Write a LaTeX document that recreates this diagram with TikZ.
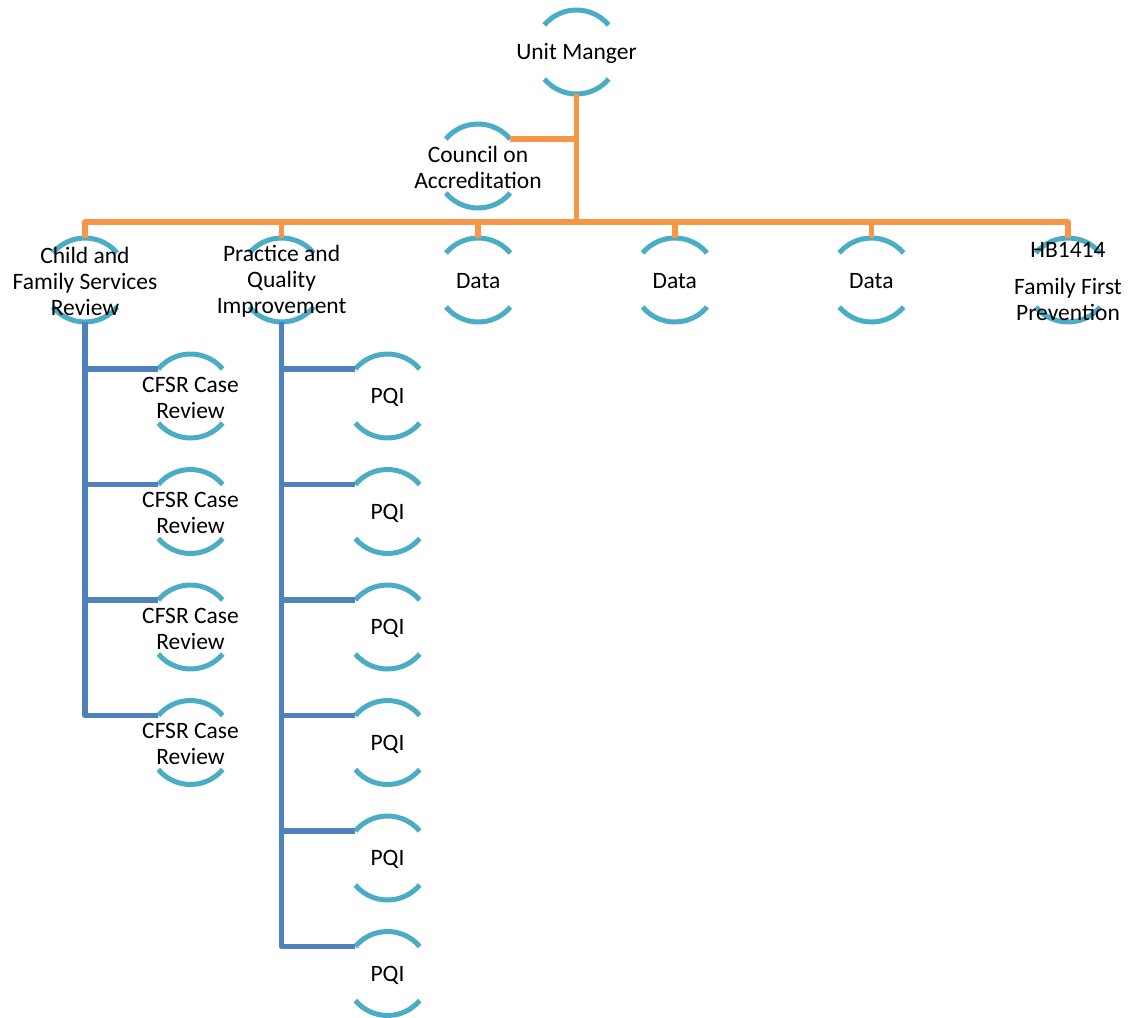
\documentclass[tikz,border=0pt]{standalone}
\usepackage{fontspec}
\setmainfont{Carlito}
\usepackage{xcolor}
\definecolor{ringblue}{HTML}{4BACC6}
\definecolor{linkorange}{HTML}{F79646}
\definecolor{linkblue}{HTML}{4F81BD}
\tikzset{
  ring/.style={circle, minimum size=84pt, inner sep=0pt, outer sep=0pt},
  txt/.style={align=center, inner sep=0pt, text=black, yshift=-1.5pt},
  arcpen/.style={ringblue, line width=5pt},
  toplink/.style={linkorange, line width=5.5pt, line join=round},
  sublink/.style={linkblue, line width=5.5pt, line join=round},
}

\begin{document}
\begin{tikzpicture}[x=1pt, y=1pt, font=\fontsize{23.5}{26}\selectfont]
      \useasboundingbox (0,0) rectangle (1132,-1017);
      \node[ring] (um) at (576.5,-52) {};
      \node[ring] (coa) at (478,-166) {};
      \node[ring] (cfs) at (85,-280) {};
      \node[ring] (pqi) at (281.6,-280) {};
      \node[ring] (d1) at (478.2,-280) {};
      \node[ring] (d2) at (674.8,-280) {};
      \node[ring] (d3) at (871.4,-280) {};
      \node[ring] (hb) at (1068,-280) {};
      \node[ring] (c1) at (190.5,-396) {};
      \node[ring] (c2) at (190.5,-511.5) {};
      \node[ring] (c3) at (190.5,-627) {};
      \node[ring] (c4) at (190.5,-742.5) {};
      \node[ring] (p1) at (387.5,-396) {};
      \node[ring] (p2) at (387.5,-511.5) {};
      \node[ring] (p3) at (387.5,-627) {};
      \node[ring] (p4) at (387.5,-742.5) {};
      \node[ring] (p5) at (387.5,-858) {};
      \node[ring] (p6) at (387.5,-973.5) {};
      \coordinate (hub) at (576.5,-222);
      \foreach \n in {um,coa,cfs,pqi,d1,d2,d3,hb,c1,c2,c3,c4,p1,p2,p3,p4,p5,p6}
        \draw[arcpen] (\n.40) arc[start angle=40, end angle=140, radius=42pt]
                      (\n.220) arc[start angle=220, end angle=320, radius=42pt];
      \draw[toplink] (um.south) -- (hub);
      \draw[toplink] (coa.40) -| (hub);
      \foreach \n in {cfs,pqi,d1,d2,d3,hb}
        \draw[toplink] (\n.north) |- (hub);
      \foreach \n in {c1,c2,c3,c4}
        \draw[sublink] (cfs.south) |- (\n.140);
      \foreach \n in {p1,p2,p3,p4,p5,p6}
        \draw[sublink] (pqi.south) |- (\n.140);
      \node[txt] (um-t) at (um) {Unit Manger};
      \node[txt] (coa-t) at (coa) {Council on\\Accreditation};
      \node[txt] (cfs-t) at (cfs) {Child and\\Family Services\\Review};
      \node[txt] (pqi-t) at (pqi) {Practice and\\Quality\\Improvement};
      \node[txt] (d1-t) at (d1) {Data};
      \node[txt] (d2-t) at (d2) {Data};
      \node[txt] (d3-t) at (d3) {Data};
      \node[txt] (hb-t) at (hb) {HB1414\\[11pt]Family First\\Prevention};
      \foreach \n in {c1,c2,c3,c4}
        \node[txt] (\n-t) at (\n) {CFSR Case\\Review};
      \foreach \n in {p1,p2,p3,p4,p5,p6}
        \node[txt] (\n-t) at (\n) {PQI};
    \end{tikzpicture}
\end{document}
